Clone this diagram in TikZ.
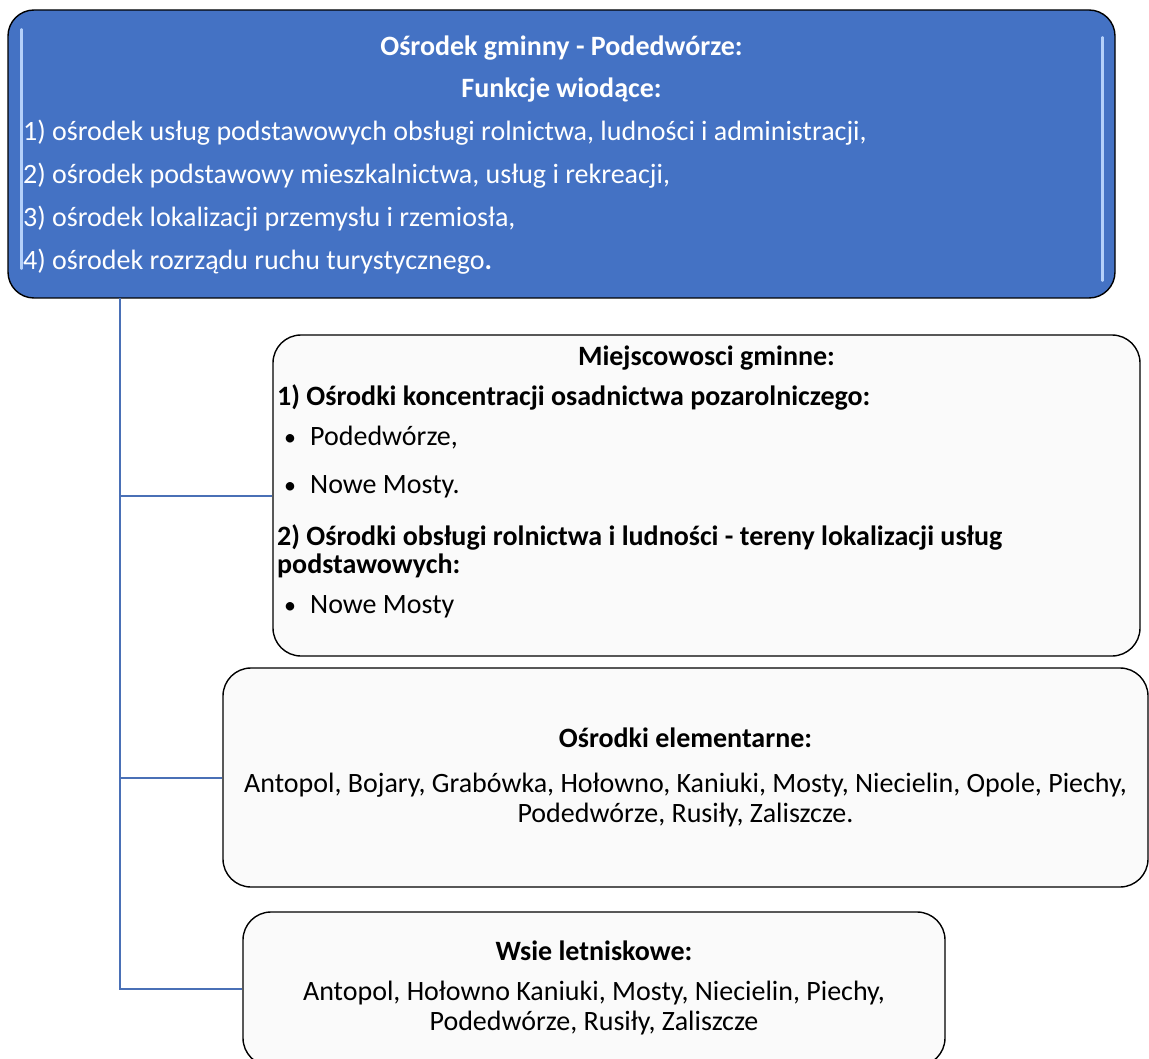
\documentclass[tikz,border=0pt]{standalone}
\usepackage{fontspec}
\setmainfont{Carlito}
\definecolor{topblue}{HTML}{4472C4}
\definecolor{linkblue}{HTML}{4A70B6}
\definecolor{glossblue}{HTML}{B4D0FA}
\newcommand\boxfont{\fontsize{28pt}{30pt}\selectfont}
\newcommand\bul{\makebox[33pt][l]{\hspace{7pt}\fontsize{24pt}{24pt}\selectfont •}}

\begin{document}
\begin{tikzpicture}[x=1pt, y=-1pt,
    box/.style={rectangle, rounded corners=28pt, draw, line width=1.4pt, fill=black!2, inner sep=0pt},
    topbox/.style={box, rounded corners=26pt, fill=topblue},
    link/.style={draw=linkblue, line width=2pt},
    gloss/.style={draw=glossblue, line width=2.5pt, line cap=round},
    ctext/.style={anchor=base, inner sep=0pt, font=\boxfont},
    ltext/.style={anchor=base west, inner sep=0pt, font=\boxfont}]
        \useasboundingbox (0,0) rectangle (1149,1059);

        \node[topbox, minimum width=1107pt, minimum height=288pt] (top) at (561.5,154) {};
        \node[box, minimum width=867pt, minimum height=321pt] (places) at (706.5,495.5) {};
        \node[box, minimum width=925pt, minimum height=219pt] (elem) at (685.5,777.5) {};
        \node[box, minimum width=702pt, minimum height=154pt] (summer) at (594,989) {};

        \draw[gloss] ([shift={(14,20)}]top.north west) -- ([shift={(14,-30)}]top.south west);
        \draw[gloss] ([shift={(-13,28)}]top.north east) -- ([shift={(-13,-18)}]top.south east);

        % top box
        \node[ctext, text=white] (toptitle) at (561.5,56) {\bfseries Ośrodek gminny - Podedwórze:};
        \node[ctext, text=white] (topsub) at (561.5,98) {\bfseries Funkcje wiodące:};
        \node[ltext, text=white] (f1) at (23,141) {1) ośrodek usług podstawowych obsługi rolnictwa, ludności i administracji,};
        \node[ltext, text=white] (f2) at (23,184) {2) ośrodek podstawowy mieszkalnictwa, usług i rekreacji,};
        \node[ltext, text=white] (f3) at (23,227) {3) ośrodek lokalizacji przemysłu i rzemiosła,};
        \node[ltext, text=white] (f4) at (23,270) {4) ośrodek rozrządu ruchu turystycznego\textbf{.}};

        % gminne
        \node[ctext] (placestitle) at (706.5,366) {\bfseries Miejscowosci gminne:};
        \node[ltext] (p1) at (277,406) {\bfseries 1) Ośrodki koncentracji osadnictwa pozarolniczego:};
        \node[ltext] (p1a) at (277,445) {\bul Podedwórze,};
        \node[ltext] (p1b) at (277,493) {\bul Nowe Mosty.};
        \node[ltext] (p2) at (277,545) {\bfseries 2) Ośrodki obsługi rolnictwa i ludności - tereny lokalizacji usług};
        \node[ltext] (p2x) at (277,573) {\bfseries podstawowych:};
        \node[ltext] (p2a) at (277,613) {\bul Nowe Mosty};

        % elementarne
        \node[ctext] (elemtitle) at (685.5,747) {\bfseries Ośrodki elementarne:};
        \node[ctext] (elem1) at (685.5,792) {Antopol, Bojary, Grabówka, Hołowno, Kaniuki, Mosty, Niecielin, Opole, Piechy,};
        \node[ctext] (elem2) at (685.5,822) {Podedwórze, Rusiły, Zaliszcze.};

        % letniskowe
        \node[ctext] (summertitle) at (594,960) {\bfseries Wsie letniskowe:};
        \node[ctext] (summer1) at (594,1000) {Antopol, Hołowno Kaniuki, Mosty, Niecielin, Piechy,};
        \node[ctext] (summer2) at (594,1030) {Podedwórze, Rusiły, Zaliszcze};

        \coordinate (trunk) at (120,298);
        \draw[link] (trunk) |- (summer.west);
        \draw[link] (trunk |- places.west) -- (places.west);
        \draw[link] (trunk |- elem.west) -- (elem.west);

    \end{tikzpicture}
\end{document}
